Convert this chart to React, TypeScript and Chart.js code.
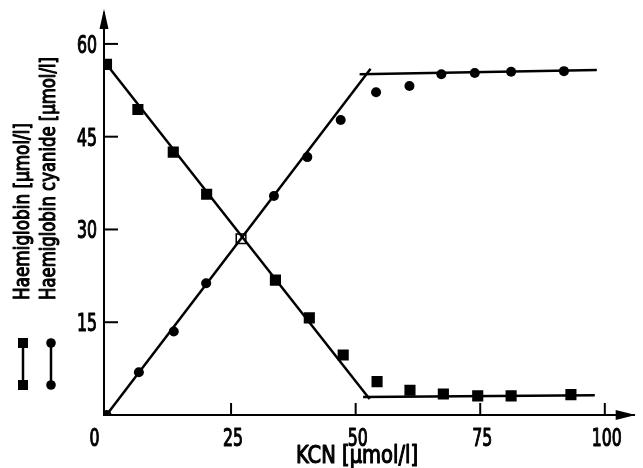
import React, { useEffect, useRef } from "react";
import { Chart, registerables } from "chart.js";

Chart.register(...registerables);

const FONT = "'DejaVu Sans Condensed', 'DejaVu Sans', sans-serif";

// Tick values
const xTickValues = [0, 25, 50, 75, 100];
const yTickValues = [15, 30, 45, 60];

// Haemiglobin (squares)
const hbX = [0, 6.3, 13.4, 20.1, 27.0, 33.9, 40.7, 47.5, 54.3, 60.9, 67.6, 74.5, 81.2, 93.2];
const hbY = [56.7, 49.4, 42.5, 35.7, 28.5, 21.8, 15.7, 9.7, 5.4, 4.0, 3.4, 3.1, 3.1, 3.3];

// Haemiglobin cyanide (circles)
const hicnX = [0, 6.5, 13.5, 20.0, 27.0, 33.6, 40.3, 47.0, 54.1, 60.8, 67.2, 73.9, 81.2, 91.8];
const hicnY = [0, 6.9, 13.5, 21.3, 28.5, 35.4, 41.7, 47.7, 52.2, 53.2, 55.1, 55.3, 55.5, 55.6];

// Fitted lines
const hbFitDownX = [0, 52.8];
const hbFitDownY = [56.7, 2.6];
const hbFitFlatX = [51.5, 98];
const hbFitFlatY = [2.9, 3.2];
const hicnFitUpX = [0, 53];
const hicnFitUpY = [0, 56.0];
const hicnFitFlatX = [50.8, 98.4];
const hicnFitFlatY = [55.1, 55.8];

const crossIndex = 4;

const toPts = (xs: number[], ys: number[]) => xs.map((x, i) => ({ x, y: ys[i] }));

const yLabel1 = "Haemiglobin [µmol/l]";
const yLabel2 = "Haemiglobin cyanide [µmol/l]";
const xTitle = "KCN [µmol/l]";

// draw text horizontally compressed (narrow DIN-like face)
function narrowText(
  ctx: CanvasRenderingContext2D,
  text: string,
  x: number,
  y: number,
  font: string,
  sx: number,
  align: "left" | "center" | "right",
  targetWidth?: number
) {
  ctx.save();
  ctx.font = font;
  ctx.textBaseline = "alphabetic";
  ctx.textAlign = "left";
  const w = ctx.measureText(text).width;
  const s = targetWidth ? targetWidth / w : sx;
  const drawn = w * s;
  let x0 = x;
  if (align === "center") x0 = x - drawn / 2;
  else if (align === "right") x0 = x - drawn;
  ctx.translate(x0, y);
  ctx.scale(s, 1);
  ctx.lineWidth = 1.1;
  ctx.lineJoin = "round";
  ctx.strokeStyle = "#000";
  ctx.fillText(text, 0, 0);
  ctx.strokeText(text, 0, 0);
  ctx.restore();
}

const decorPlugin = {
  id: "decor",
  afterDraw(chart: any) {
    const { ctx, chartArea, scales } = chart;
    const xs = scales.x;
    const ys = scales.y;
    const left = chartArea.left;
    const bottom = chartArea.bottom;
    ctx.save();
    ctx.strokeStyle = "#000";
    ctx.fillStyle = "#000";
    ctx.lineWidth = 2;
    // inward ticks
    for (const v of yTickValues) {
      const py = ys.getPixelForValue(v);
      ctx.beginPath();
      ctx.moveTo(left, py);
      ctx.lineTo(left + 14, py);
      ctx.stroke();
    }
    for (const v of xTickValues) {
      if (v === 0) continue;
      const px = xs.getPixelForValue(v);
      ctx.beginPath();
      ctx.moveTo(px, bottom);
      ctx.lineTo(px, bottom - 12);
      ctx.stroke();
    }
    // arrow heads
    ctx.beginPath();
    ctx.moveTo(left, chartArea.top - 4);
    ctx.lineTo(left - 4.5, chartArea.top + 16);
    ctx.lineTo(left + 4.5, chartArea.top + 16);
    ctx.closePath();
    ctx.fill();
    ctx.beginPath();
    ctx.moveTo(chartArea.right + 1, bottom);
    ctx.lineTo(chartArea.right - 19, bottom - 5);
    ctx.lineTo(chartArea.right - 19, bottom + 5);
    ctx.closePath();
    ctx.fill();

    const tickFont = `25px ${FONT}`;
    const sxDigits = 0.7;
    // x tick labels
    for (const v of xTickValues) {
      const px = xs.getPixelForValue(v);
      const cx = v === 0 ? px - 12 : px + 2;
      narrowText(ctx, String(v), cx, bottom + 31, tickFont, sxDigits, "center");
    }
    // y tick labels
    for (const v of yTickValues) {
      const py = ys.getPixelForValue(v);
      narrowText(ctx, String(v), left - 7, py + 9, tickFont, sxDigits, "right");
    }
    // x title
    narrowText(ctx, xTitle, 357, 463, `24px ${FONT}`, 1, "center", 122);

    // vertical axis labels
    ctx.save();
    ctx.translate(29, 300);
    ctx.rotate(-Math.PI / 2);
    narrowText(ctx, yLabel1, 0, 0, `21px ${FONT}`, 1, "left", 177);
    ctx.restore();
    ctx.save();
    ctx.translate(55, 300);
    ctx.rotate(-Math.PI / 2);
    narrowText(ctx, yLabel2, 0, 0, `21px ${FONT}`, 1, "left", 243);
    ctx.restore();

    // legend symbols
    const top = 343;
    const bot = 385;
    ctx.lineWidth = 2.5;
    ctx.beginPath();
    ctx.moveTo(23, top);
    ctx.lineTo(23, bot);
    ctx.stroke();
    ctx.fillRect(23 - 5, top - 5, 10, 10);
    ctx.fillRect(23 - 5, bot - 5, 10, 10);
    ctx.beginPath();
    ctx.moveTo(51, top);
    ctx.lineTo(51, bot);
    ctx.stroke();
    ctx.beginPath();
    ctx.arc(51, top, 4.8, 0, Math.PI * 2);
    ctx.fill();
    ctx.beginPath();
    ctx.arc(51, bot, 4.8, 0, Math.PI * 2);
    ctx.fill();
    ctx.restore();
  },
};

export default function App() {
  const canvasRef = useRef<HTMLCanvasElement | null>(null);

  useEffect(() => {
    if (!canvasRef.current) return;
    const lineDs = (xs: number[], ys: number[]) => ({
      type: "line" as const,
      data: toPts(xs, ys),
      borderColor: "#000",
      borderWidth: 2.5,
      pointRadius: 0,
      showLine: true,
      fill: false,
    });
    const hbBg = hbX.map((_, i) => (i === crossIndex ? "#fff" : "#000"));
    const hicnRadius = hicnX.map((_, i) => (i === crossIndex ? 0 : 5));
    const chart = new Chart(canvasRef.current, {
      type: "scatter",
      data: {
        datasets: [
          lineDs(hbFitDownX, hbFitDownY),
          lineDs(hbFitFlatX, hbFitFlatY),
          lineDs(hicnFitUpX, hicnFitUpY),
          lineDs(hicnFitFlatX, hicnFitFlatY),
          {
            label: "Haemiglobin",
            data: toPts(hbX, hbY),
            pointStyle: "rect",
            pointRadius: 6.8,
            pointBackgroundColor: hbBg,
            pointBorderColor: "#000",
            pointBorderWidth: 1.5,
          },
          {
            label: "Haemiglobin cyanide",
            data: toPts(hicnX, hicnY),
            pointStyle: "circle",
            pointRadius: hicnRadius,
            pointBackgroundColor: "#000",
            pointBorderColor: "#000",
            pointBorderWidth: 0,
          },
        ] as any,
      },
      options: {
        animation: false,
        responsive: false,
        maintainAspectRatio: false,
        layout: { padding: { top: 13, right: 1, left: 0, bottom: 0 } },
        plugins: {
          legend: { display: false },
          tooltip: { enabled: false },
        },
        scales: {
          x: {
            type: "linear",
            min: -0.5,
            max: 106,
            afterBuildTicks: (scale: any) => {
              scale.ticks = xTickValues.map((v) => ({ value: v }));
            },
            afterFit: (scale: any) => {
              scale.height = 53;
            },
            grid: { display: false, drawTicks: false },
            border: { display: true, color: "#000", width: 2 },
            ticks: { display: false },
            title: { display: false, text: xTitle },
          },
          y: {
            type: "linear",
            min: 0,
            max: 65,
            afterBuildTicks: (scale: any) => {
              scale.ticks = yTickValues.map((v) => ({ value: v }));
            },
            afterFit: (scale: any) => {
              scale.width = 104;
            },
            grid: { display: false, drawTicks: false },
            border: { display: true, color: "#000", width: 2 },
            ticks: { display: false },
          },
        },
      },
      plugins: [decorPlugin],
    } as any);
    return () => chart.destroy();
  }, []);

  return (
    <div style={{ position: "absolute", left: 0, top: 0, width: 643, height: 468, background: "#fff" }}>
      <canvas ref={canvasRef} width={643} height={468} style={{ display: "block" }} />
    </div>
  );
}
